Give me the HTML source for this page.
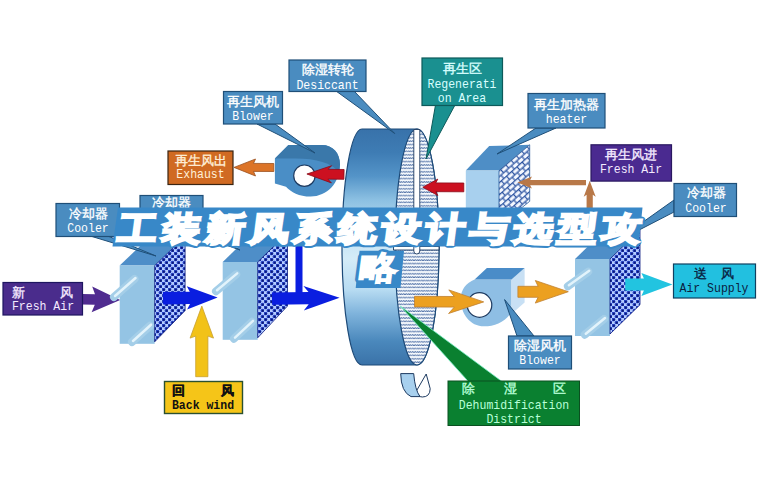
<!DOCTYPE html>
<html><head><meta charset="utf-8">
<style>
html,body{margin:0;padding:0;background:#fff;width:757px;height:488px;overflow:hidden}
svg{display:block}
.lb{font-family:"Liberation Sans",sans-serif;font-size:13px;stroke-width:0.35}
.tb{stroke:#3888c8;stroke-width:8.5;stroke-linejoin:round;fill:#3888c8}
.tw{stroke:#fff;stroke-width:4;fill:#fff}
.en{font-family:"Liberation Mono",monospace;font-size:13px}
</style></head><body>
<svg width="757" height="488" viewBox="0 0 757 488">
<defs>
  <linearGradient id="wheelG" x1="0" y1="129" x2="0" y2="365" gradientUnits="userSpaceOnUse">
    <stop offset="0" stop-color="#3872aa"/>
    <stop offset="0.1" stop-color="#3e7cb4"/>
    <stop offset="0.2" stop-color="#5494c8"/>
    <stop offset="0.3" stop-color="#8cc0e2"/>
    <stop offset="0.45" stop-color="#c4e2f4"/>
    <stop offset="0.55" stop-color="#d4ecf8"/>
    <stop offset="0.68" stop-color="#b8dcf2"/>
    <stop offset="0.78" stop-color="#80b4dc"/>
    <stop offset="0.9" stop-color="#4a88bc"/>
    <stop offset="1" stop-color="#3a72a8"/>
  </linearGradient>
  <pattern id="wave" width="4.5" height="3.4" patternUnits="userSpaceOnUse">
    <rect width="4.5" height="3.4" fill="#f4f8fc"/>
    <path d="M-1.125,1.1 L0,2.5 L1.125,1.1 L2.25,2.5 L3.375,1.1 L4.5,2.5 L5.625,1.1" fill="none" stroke="#2c5494" stroke-width="0.85"/>
  </pattern>
  <pattern id="dots" width="6" height="6" patternUnits="userSpaceOnUse">
    <rect width="6" height="6" fill="#b4ccff"/>
    <circle cx="1.5" cy="1.5" r="1.85" fill="#2440c4"/>
    <circle cx="4.5" cy="4.5" r="1.85" fill="#2440c4"/>
    <circle cx="1.8" cy="1.8" r="1.1" fill="#0c1a78"/>
    <circle cx="4.8" cy="4.8" r="1.1" fill="#0c1a78"/>
  </pattern>
  <pattern id="brick" width="7" height="9" patternUnits="userSpaceOnUse" patternTransform="translate(499,170) rotate(-42)">
    <rect width="7" height="9" fill="#f4f8ff"/>
    <path d="M0,0.6 H7 M0,5.1 H7 M1.5,0.6 V5.1 M5,5.1 V9.6" stroke="#2a52a0" stroke-width="1.2" fill="none"/>
  </pattern>
</defs>

<!-- ===== Wheel ===== -->
<path d="M362,129 L417,129 A22,118 0 0 1 417,365 L362,365 A20,118 0 0 1 362,129 Z" fill="url(#wheelG)" stroke="#1d4a78" stroke-width="1.2"/>
<ellipse cx="417" cy="247" rx="22" ry="118" fill="url(#wave)" stroke="#1d4a78" stroke-width="1.2"/>
<rect x="393.5" y="246.5" width="45.5" height="3.5" fill="#fff" stroke="#1d3a60" stroke-width="0.9"/>
<path d="M413.8,129.5 L419.8,129.5 L419.8,251 Q419.8,254 416.8,254 Q413.8,254 413.8,251 Z" fill="#fff" stroke="#1d3a60" stroke-width="0.9"/>
<!-- U shape below wheel -->
<path d="M416.5,390.8 L426.2,374 L430.2,388.7 Q430,397 422.3,397 Q418,397 416.5,390.8 Z" fill="#fff" stroke="#1d3a60" stroke-width="1"/>
<path d="M400.7,373.6 L413.7,373.6 Q415,390 420,396.6 L411,396.6 Q401,392 400.7,373.6 Z" fill="#a8d0ee" stroke="#1d3a60" stroke-width="1"/>

<!-- ===== Blower 1 (regen) ===== -->
<path d="M274.9,158.4 L288.4,144.9 L321.6,144.9 C333,144.9 340,153 340,164.6 C340,183 327,196.6 310.6,196.6 C299,196.6 291,192 286,186.7 L274.9,183.6 Z" fill="#4a8ec6"/>
<path d="M274.9,158.4 L288.4,144.9 L321.6,144.9 C333,144.9 340,153 340,164.6 L339,172 C332,163 316,158.4 296,158.4 Z" fill="#3a78aa"/>
<circle cx="304.4" cy="175.7" r="10.7" fill="#fff" stroke="#1d3a60" stroke-width="1.2"/>

<!-- exhaust arrow -->
<polygon points="273.8,163.5 253.5,163.4 255.5,159.0 234.0,167.4 255.5,176.0 253.5,171.4 273.8,171.5" fill="#dc7428" stroke="#9a5020" stroke-width="0.8" stroke-linejoin="round"/>
<!-- red arrow into blower -->
<polygon points="344.1,169.5 328.1,169.3 331.6,165.7 306.9,174.0 331.4,182.9 327.9,179.1 343.9,179.3" fill="#cc1020" stroke="#8a0a18" stroke-width="0.8" stroke-linejoin="round"/>

<!-- ===== Heater ===== -->
<polygon points="465.8,170.6 489.2,146 529.7,144.8 499,170.6" fill="#4e8ec6"/>
<rect x="465.8" y="170.6" width="33.2" height="54" fill="#a8d0ee"/>
<polygon points="499,170.6 529.7,144.8 529.7,201.3 499,226" fill="url(#brick)" stroke="#2a5a9a" stroke-width="0.8"/>

<!-- red arrow into wheel -->
<polygon points="463.8,183.0 435.8,182.9 437.8,179.1 422.8,187.2 437.8,195.5 435.8,191.7 463.8,191.8" fill="#cc1020" stroke="#8a0a18" stroke-width="0.8" stroke-linejoin="round"/>
<!-- brown arrows fresh air -->
<polygon points="586.0,180.0 530.0,180.0 532.0,176.6 517.5,182.6 532.0,188.6 530.0,185.2 586.0,185.2" fill="#b87848"/>
<polygon points="592.7,245.0 592.8,194.7 595.7,196.7 589.7,180.7 583.7,196.7 586.6,194.7 586.5,245.0" fill="#b87848"/>

<!-- ===== Coolers ===== -->
<!-- purple arrow -->
<polygon points="81.9,304.4 94.8,304.7 91.6,312.3 120.2,300.0 92.2,286.5 95.0,294.3 82.1,294.0" fill="#502c90"/>
<g id="c1">
<polygon points="119.7,265.5 150.1,236.5 185.1,236.5 154.7,265.5" fill="#4e8ec8"/>
<rect x="119.7" y="265.5" width="35" height="78.3" fill="#94c4e4"/>
<polygon points="154.7,265.5 185.1,236.5 185.1,310.6 154.7,341.8" fill="url(#dots)" stroke="#0a1a80" stroke-width="0.8"/>
<line x1="114" y1="297" x2="134.5" y2="279" stroke="#a4cee8" stroke-width="8" stroke-linecap="round"/><line x1="115" y1="296" x2="135.5" y2="278" stroke="#e2f3fb" stroke-width="2.5" stroke-linecap="round"/>
<line x1="132" y1="342" x2="150" y2="325.7" stroke="#a4cee8" stroke-width="8" stroke-linecap="round"/><line x1="133" y1="341" x2="151" y2="324.7" stroke="#e2f3fb" stroke-width="2.5" stroke-linecap="round"/>
</g>
<g id="c2">
<polygon points="222.7,262 252.5,233 287.5,233 257.7,262" fill="#4e8ec8"/>
<rect x="222.7" y="262" width="35" height="77.8" fill="#94c4e4"/>
<polygon points="257.7,262 287.5,233 287.5,306 257.7,337.8" fill="url(#dots)" stroke="#0a1a80" stroke-width="0.8"/>
<line x1="216" y1="291.3" x2="236.2" y2="274.4" stroke="#a4cee8" stroke-width="8" stroke-linecap="round"/><line x1="217" y1="290.3" x2="237.2" y2="273.4" stroke="#e2f3fb" stroke-width="2.5" stroke-linecap="round"/>
<line x1="234" y1="338.7" x2="252" y2="321.8" stroke="#a4cee8" stroke-width="8" stroke-linecap="round"/><line x1="235" y1="337.7" x2="253" y2="320.8" stroke="#e2f3fb" stroke-width="2.5" stroke-linecap="round"/>
</g>
<g id="c3">
<polygon points="575,259 605,230 640,230 610,259" fill="#4e8ec8"/>
<rect x="575" y="259" width="35" height="77" fill="#94c4e4"/>
<polygon points="610,259 640,230 640,304.7 610,334" fill="url(#dots)" stroke="#0a1a80" stroke-width="0.8"/>
<line x1="567.9" y1="286.3" x2="588.2" y2="271.7" stroke="#a4cee8" stroke-width="8" stroke-linecap="round"/><line x1="568.9" y1="285.3" x2="589.2" y2="270.7" stroke="#e2f3fb" stroke-width="2.5" stroke-linecap="round"/>
<line x1="584.8" y1="334.7" x2="604" y2="319" stroke="#a4cee8" stroke-width="8" stroke-linecap="round"/><line x1="585.8" y1="333.7" x2="605" y2="318" stroke="#e2f3fb" stroke-width="2.5" stroke-linecap="round"/>
</g>

<!-- blue arrows -->
<polygon points="163.1,304.4 190.0,304.1 187.1,309.6 217.6,297.5 186.8,286.2 189.8,291.7 162.9,292.0" fill="#0a1ee0"/>
<polygon points="272.1,304.8 308.7,304.3 303.8,310.5 339.6,297.7 303.4,285.9 308.5,292.1 271.9,292.6" fill="#0a1ee0"/>
<rect x="295.5" y="240" width="7" height="56" fill="#0a1ee0"/>


<!-- yellow arrow -->
<polygon points="207.9,376.7 207.9,336.1 213.5,338.1 201.8,306.1 190.1,338.1 195.7,336.1 195.7,376.7" fill="#f2c218" stroke="#c8a030" stroke-width="0.8" stroke-linejoin="round"/>

<!-- Fresh air box (left) -->
<rect x="3" y="282.5" width="79.5" height="32.5" fill="#4a2c8c" stroke="#1e1660" stroke-width="1.2"/>
<text x="18" y="297" text-anchor="middle" class="lb" stroke="#f4eaff" fill="#f4eaff">新</text>
<text x="66.5" y="297" text-anchor="middle" class="lb" stroke="#f4eaff" fill="#f4eaff">风</text>
<text x="43" y="310" text-anchor="middle" fill="#f4eaff" class="en" textLength="62.1" lengthAdjust="spacingAndGlyphs">Fresh Air</text>

<!-- Back wind -->
<rect x="164.5" y="381.5" width="78" height="32" fill="#f5c518" stroke="#2a5030" stroke-width="1.4"/>
<text x="178.7" y="395" text-anchor="middle" class="lb" stroke="#111" fill="#111" font-weight="bold">回</text>
<text x="227" y="395" text-anchor="middle" class="lb" stroke="#111" fill="#111" font-weight="bold">风</text>
<text x="203" y="409" text-anchor="middle" fill="#111" font-weight="bold" class="en" textLength="62.1" lengthAdjust="spacingAndGlyphs">Back wind</text>

<!-- ===== Blower 2 (dehumid) ===== -->
<path d="M474.6,279.6 L511.5,279.6 L511.5,312 C505,322 495,326.3 484,326.3 C470,326.3 460.7,314 460.7,299 C460.7,290 466,283 474.6,279.6 Z" fill="#8ebee4"/>
<polygon points="511.5,279.6 524.6,268.1 524.6,302.5 511.5,314" fill="#c8e0f4"/>
<polygon points="474.6,279.6 486.9,268.1 524.6,268.1 511.5,279.6" fill="#4a8cc8"/>
<circle cx="479.5" cy="305" r="12.3" fill="#fff" stroke="#1d3a60" stroke-width="1.2"/>

<!-- orange arrows -->
<polygon points="414.5,306.9 454.3,307.1 448.6,313.5 483.7,301.9 448.8,289.9 454.3,296.5 414.5,296.3" fill="#eca020" stroke="#c08030" stroke-width="0.8" stroke-linejoin="round"/>
<polygon points="517.9,297.3 538.1,297.3 535.3,303.1 568.3,291.7 535.3,280.5 538.1,286.3 517.9,286.3" fill="#eca020" stroke="#c08030" stroke-width="0.8" stroke-linejoin="round"/>

<!-- cyan arrow -->
<polygon points="625.2,290.5 643.9,290.5 641.4,296.0 672.4,284.5 641.4,273.0 643.9,278.5 625.2,278.5" fill="#22c4e0"/>

<!-- Air supply box -->
<rect x="673.5" y="264" width="82" height="34" fill="#22c0e0" stroke="#104060" stroke-width="1.2"/>
<text x="700" y="278" text-anchor="middle" class="lb" stroke="#0a2040" fill="#0a2040">送</text>
<text x="727" y="278" text-anchor="middle" class="lb" stroke="#0a2040" fill="#0a2040">风</text>
<text x="714" y="292" text-anchor="middle" fill="#0a2040" class="en" textLength="69.0" lengthAdjust="spacingAndGlyphs">Air Supply</text>

<!-- Blower 2 callout -->
<polygon points="517,336 534,336 504.6,299.6" fill="#4a8cc0" stroke="#1f4f78" stroke-width="1"/>
<rect x="508.5" y="336" width="63" height="33" fill="#4a8cc0" stroke="#1f4f78" stroke-width="1.2"/>
<text x="540" y="350" text-anchor="middle" class="lb" stroke="#fff" fill="#fff">除湿风机</text>
<text x="540" y="364" text-anchor="middle" fill="#fff" class="en" textLength="41.4" lengthAdjust="spacingAndGlyphs">Blower</text>

<!-- Dehumid callout -->
<polygon points="468.3,381.5 502,381.5 400.2,306" fill="#0a8030" stroke="#7af0c8" stroke-width="0.8"/>
<rect x="448" y="381" width="131.5" height="44.5" fill="#0a8030" stroke="#0a5020" stroke-width="1"/>
<text x="468.7" y="393" text-anchor="middle" class="lb" stroke="#b8ffd8" fill="#b8ffd8">除</text>
<text x="510.3" y="393" text-anchor="middle" class="lb" stroke="#b8ffd8" fill="#b8ffd8">湿</text>
<text x="559.4" y="393" text-anchor="middle" class="lb" stroke="#b8ffd8" fill="#b8ffd8">区</text>
<text x="514" y="409" text-anchor="middle" fill="#b8ffd8" class="en" textLength="110.4" lengthAdjust="spacingAndGlyphs">Dehumidification</text>
<text x="514" y="423" text-anchor="middle" fill="#b8ffd8" class="en" textLength="55.2" lengthAdjust="spacingAndGlyphs">District</text>

<!-- ===== Callout boxes (top) ===== -->
<!-- Desiccant -->
<polygon points="336,91 354,91 394.7,133.5" fill="#4a8cc0" stroke="#1f4f78" stroke-width="1"/>
<rect x="289" y="60" width="77" height="31.5" fill="#4a8cc0" stroke="#1f4f78" stroke-width="1.2"/>
<text x="327.5" y="74" text-anchor="middle" class="lb" stroke="#fff" fill="#fff">除湿转轮</text>
<text x="327.5" y="88.5" text-anchor="middle" fill="#fff" class="en" textLength="62.1" lengthAdjust="spacingAndGlyphs">Desiccant</text>

<!-- Regeneration area -->
<polygon points="435.5,105 455,105 426,159" fill="#1a9090" stroke="#0d5a5a" stroke-width="1"/>
<rect x="422" y="58" width="80.5" height="47.5" fill="#1a9090" stroke="#0d5a5a" stroke-width="1.2"/>
<text x="462" y="73" text-anchor="middle" class="lb" stroke="#d8ffff" fill="#d8ffff">再生区</text>
<text x="462" y="87.5" text-anchor="middle" fill="#d8ffff" class="en" textLength="69.0" lengthAdjust="spacingAndGlyphs">Regenerati</text>
<text x="462" y="102" text-anchor="middle" fill="#d8ffff" class="en" textLength="48.3" lengthAdjust="spacingAndGlyphs">on Area</text>

<!-- Blower (regen) box -->
<polygon points="257,124 275,124 315,153" fill="#4a8cc0" stroke="#1f4f78" stroke-width="1"/>
<rect x="223.5" y="91.5" width="59" height="32.5" fill="#4a8cc0" stroke="#1f4f78" stroke-width="1.2"/>
<text x="253" y="106" text-anchor="middle" class="lb" stroke="#fff" fill="#fff">再生风机</text>
<text x="253" y="119.5" text-anchor="middle" fill="#fff" class="en" textLength="41.4" lengthAdjust="spacingAndGlyphs">Blower</text>

<!-- Exhaust box -->
<rect x="168" y="151" width="65" height="33.5" fill="#d06a22" stroke="#3a2412" stroke-width="1.2"/>
<text x="200.5" y="165" text-anchor="middle" class="lb" stroke="#fff0d8" fill="#fff0d8">再生风出</text>
<text x="200.5" y="177.5" text-anchor="middle" fill="#fff0d8" class="en" textLength="48.3" lengthAdjust="spacingAndGlyphs">Exhaust</text>

<!-- Heater box -->
<polygon points="536,128 556,128 497,154" fill="#4a8cc0" stroke="#1f4f78" stroke-width="1"/>
<rect x="528" y="93.5" width="77" height="34.5" fill="#4a8cc0" stroke="#1f4f78" stroke-width="1.2"/>
<text x="566.5" y="109" text-anchor="middle" class="lb" stroke="#fff" fill="#fff">再生加热器</text>
<text x="566.5" y="123" text-anchor="middle" fill="#fff" class="en" textLength="41.4" lengthAdjust="spacingAndGlyphs">heater</text>

<!-- Fresh air (regen) purple -->
<rect x="591" y="144.8" width="80.5" height="36.3" fill="#4a2a90" stroke="#2a1860" stroke-width="1.2"/>
<text x="631" y="159" text-anchor="middle" class="lb" stroke="#f4eaff" fill="#f4eaff">再生风进</text>
<text x="631" y="173" text-anchor="middle" fill="#f4eaff" class="en" textLength="62.1" lengthAdjust="spacingAndGlyphs">Fresh Air</text>

<!-- Cooler right -->
<polygon points="674,200 674,212 612,244" fill="#4a8cc0" stroke="#1f4f78" stroke-width="1"/>
<rect x="674" y="183.5" width="62.5" height="33" fill="#4a8cc0" stroke="#1f4f78" stroke-width="1.2"/>
<text x="706" y="196.5" text-anchor="middle" class="lb" stroke="#fff" fill="#fff">冷却器</text>
<text x="706" y="211.5" text-anchor="middle" fill="#fff" class="en" textLength="41.4" lengthAdjust="spacingAndGlyphs">Cooler</text>

<!-- Cooler left 1 -->
<polygon points="92,236.5 109,236.5 156,256" fill="#4a8cc0" stroke="#1f4f78" stroke-width="1"/>
<rect x="56" y="203.5" width="63.5" height="33" fill="#4a8cc0" stroke="#1f4f78" stroke-width="1.2"/>
<text x="88" y="218" text-anchor="middle" class="lb" stroke="#fff" fill="#fff">冷却器</text>
<text x="88" y="231.5" text-anchor="middle" fill="#fff" class="en" textLength="41.4" lengthAdjust="spacingAndGlyphs">Cooler</text>

<!-- Cooler left 2 -->
<polygon points="178,228 196,228 240,250" fill="#4a8cc0" stroke="#1f4f78" stroke-width="1"/>
<rect x="140" y="195.5" width="63" height="33" fill="#4a8cc0" stroke="#1f4f78" stroke-width="1.2"/>
<text x="171.5" y="207" text-anchor="middle" class="lb" stroke="#fff" fill="#fff">冷却器</text>
<text x="171.5" y="222" text-anchor="middle" fill="#fff" class="en" textLength="41.4" lengthAdjust="spacingAndGlyphs">Cooler</text>

<!-- ===== Title ===== -->
<polygon points="112.5,246.5 638.5,246.5 642.5,207.5 118,207.5" fill="#3888c8"/>
<polygon points="355.7,288 400.5,288 404,250.7 359.5,250.7" fill="#3888c8"/>
<g font-family="Liberation Sans, sans-serif" font-size="35" fill="#fff">
<g transform="translate(116.7,240.2) skewX(-7.5) scale(1.1,0.93)"><text x="0" y="0" class="tb">工</text><text x="0" y="0" class="tw">工</text></g>
<g transform="translate(160.7,240.2) skewX(-7.5) scale(1.1,0.93)"><text x="0" y="0" class="tb">装</text><text x="0" y="0" class="tw">装</text></g>
<g transform="translate(204.7,240.2) skewX(-7.5) scale(1.1,0.93)"><text x="0" y="0" class="tb">新</text><text x="0" y="0" class="tw">新</text></g>
<g transform="translate(248.7,240.2) skewX(-7.5) scale(1.1,0.93)"><text x="0" y="0" class="tb">风</text><text x="0" y="0" class="tw">风</text></g>
<g transform="translate(292.7,240.2) skewX(-7.5) scale(1.1,0.93)"><text x="0" y="0" class="tb">系</text><text x="0" y="0" class="tw">系</text></g>
<g transform="translate(336.7,240.2) skewX(-7.5) scale(1.1,0.93)"><text x="0" y="0" class="tb">统</text><text x="0" y="0" class="tw">统</text></g>
<g transform="translate(380.7,240.2) skewX(-7.5) scale(1.1,0.93)"><text x="0" y="0" class="tb">设</text><text x="0" y="0" class="tw">设</text></g>
<g transform="translate(424.7,240.2) skewX(-7.5) scale(1.1,0.93)"><text x="0" y="0" class="tb">计</text><text x="0" y="0" class="tw">计</text></g>
<g transform="translate(468.7,240.2) skewX(-7.5) scale(1.1,0.93)"><text x="0" y="0" class="tb">与</text><text x="0" y="0" class="tw">与</text></g>
<g transform="translate(512.7,240.2) skewX(-7.5) scale(1.1,0.93)"><text x="0" y="0" class="tb">选</text><text x="0" y="0" class="tw">选</text></g>
<g transform="translate(556.7,240.2) skewX(-7.5) scale(1.1,0.93)"><text x="0" y="0" class="tb">型</text><text x="0" y="0" class="tw">型</text></g>
<g transform="translate(600.7,240.2) skewX(-7.5) scale(1.1,0.93)"><text x="0" y="0" class="tb">攻</text><text x="0" y="0" class="tw">攻</text></g>
<g transform="translate(358.2,279.2) skewX(-7.5) scale(1.1,0.93)"><text x="0" y="0" class="tb">略</text><text x="0" y="0" class="tw" style="stroke-width:2.6">略</text></g>
</g>
</svg>
</body></html>
